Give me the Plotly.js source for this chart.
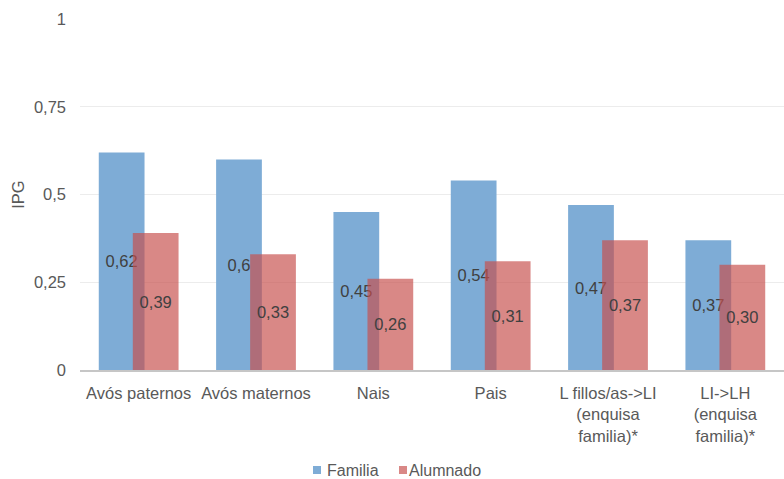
<!DOCTYPE html>
<html>
<head>
<meta charset="utf-8">
<script src="https://cdn.plot.ly/plotly-3.0.1.min.js"></script>
<style>html,body{margin:0;padding:0;background:#fff;}#chart{width:784px;height:479px;}</style>
</head>
<body>
<div id="chart"></div>
<script>
var categories = ['Avós paternos', 'Avós maternos', 'Nais', 'Pais', 'L fillos/as->LI<br>(enquisa<br>familia)*', 'LI->LH<br>(enquisa<br>familia)*'];
var seriesNames = ['Familia', 'Alumnado'];
var familia = [0.62, 0.60, 0.45, 0.54, 0.47, 0.37];
var familiaLabels = ['0,62', '0,6', '0,45', '0,54', '0,47', '0,37'];
var alumnado = [0.39, 0.33, 0.26, 0.31, 0.37, 0.30];
var alumnadoLabels = ['0,39', '0,33', '0,26', '0,31', '0,37', '0,30'];
var yTicks = [0, 0.25, 0.5, 0.75, 1];
var yTickLabels = ['0', '0,25', '0,5', '0,75', '1'];

var font = 'Liberation Sans, Arial, sans-serif';
var labelFont = {family: font, size: 16.5, color: '#404040'};
var colors = ['rgb(126,172,214)', 'rgba(199,79,76,0.68)'];
var legendColors = ['rgb(126,172,214)', 'rgb(217,136,134)'];

var traces = [
  {
    type: 'bar', name: seriesNames[0], x: categories, y: familia,
    text: familiaLabels, textposition: 'inside', insidetextanchor: 'middle',
    textfont: labelFont, constraintext: 'none', textangle: 0,
    width: 0.39, offset: -0.34,
    marker: {color: colors[0]},
    hoverinfo: 'none'
  },
  {
    type: 'bar', name: seriesNames[1], x: categories, y: alumnado,
    text: alumnadoLabels, textposition: 'inside', insidetextanchor: 'middle',
    textfont: labelFont, constraintext: 'none', textangle: 0,
    width: 0.39, offset: -0.05,
    marker: {color: colors[1]},
    hoverinfo: 'none'
  }
];

// custom legend (pixel -> paper conversion for the plot area 80..784 x 19..370)
function px(x) { return (x - 80) / 704; }
function py(y) { return (370 - y) / 351; }
var legendSquareX = [313, 399];
var legendTextX = [326, 408];
var legendY = 470;
var shapes = [];
var annotations = [];
for (var i = 0; i < seriesNames.length; i++) {
  shapes.push({
    type: 'rect', xref: 'paper', yref: 'paper',
    x0: px(legendSquareX[i]), x1: px(legendSquareX[i] + 8),
    y0: py(legendY + 4), y1: py(legendY - 4),
    fillcolor: legendColors[i], line: {width: 0}
  });
  annotations.push({
    xref: 'paper', yref: 'paper', x: px(legendTextX[i]), y: py(legendY),
    xanchor: 'left', yanchor: 'middle', showarrow: false,
    text: seriesNames[i], borderpad: 0,
    font: {family: font, size: 16, color: '#595959'}
  });
}

var layout = {
  width: 784, height: 479,
  margin: {l: 80, r: 0, t: 19, b: 109},
  paper_bgcolor: '#fff', plot_bgcolor: '#fff',
  barmode: 'overlay',
  separators: ', ',
  font: {family: font, size: 16, color: '#595959'},
  xaxis: {
    type: 'category',
    showline: true, linecolor: '#c6c6c6', linewidth: 2,
    showgrid: false, ticks: '', ticklen: 0,
    ticklabelstandoff: 7,
    tickfont: {family: font, size: 16.5, color: '#595959'},
    tickangle: 0
  },
  yaxis: {
    range: [0, 1], tickvals: yTicks, ticktext: yTickLabels,
    showgrid: true, gridcolor: '#ececec', gridwidth: 1,
    zeroline: false, showline: false, ticks: '',
    ticklabelstandoff: 13,
    tickfont: {family: font, size: 16.5, color: '#595959'},
    title: {text: 'IPG', font: {family: font, size: 16.5, color: '#595959'}, standoff: 5}
  },
  showlegend: false,
  shapes: shapes,
  annotations: annotations
};

Plotly.newPlot('chart', traces, layout, {displayModeBar: false, staticPlot: true});
</script>
</body>
</html>
